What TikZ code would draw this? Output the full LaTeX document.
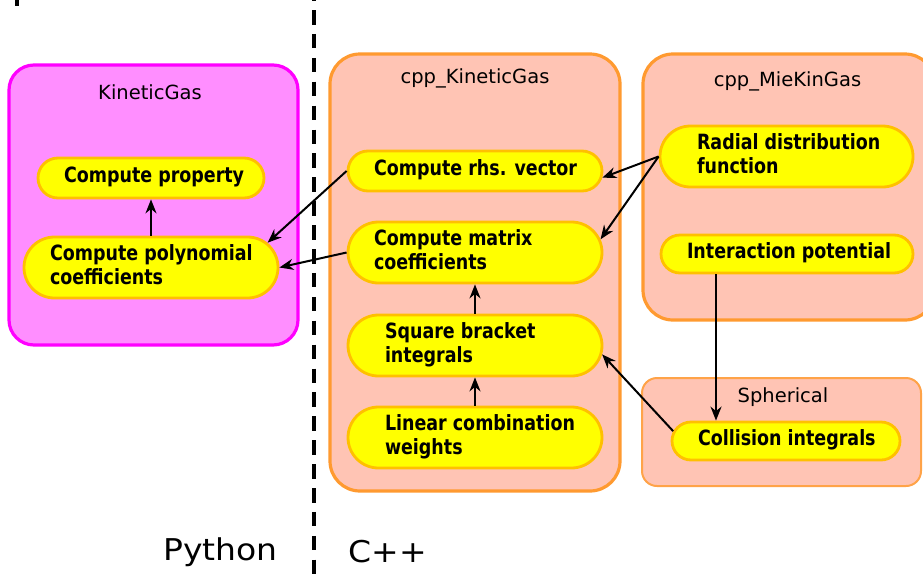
\documentclass[tikz,border=0pt]{standalone}
\usepackage{fontspec}
\setmainfont{DejaVu Sans}
\newfontfamily\pillfont{DejaVu Sans Condensed}[BoldFont={DejaVu Sans Condensed Bold},
  BoldFeatures={FakeStretch=0.925}]
\usetikzlibrary{arrows.meta,shapes.misc,calc}

\definecolor{pyfill}{HTML}{FF8EFF}
\definecolor{pyline}{HTML}{FF00FF}
\definecolor{cppfill}{HTML}{FFC4B4}
\definecolor{cppline}{HTML}{FF9A30}
\definecolor{sphline}{HTML}{FFA348}
\definecolor{pillfill}{HTML}{FFFF00}
\definecolor{pillline}{HTML}{FFC000}

% pill label: box of width #1 (pill width minus its height), text indented by #2
\newcommand\pilltext[3]{\makebox[#1pt][l]{\hspace*{#2pt}%
  \begin{tabular}{@{}l@{}}#3\end{tabular}}}

\tikzset{
  container/.style={draw=cppline, fill=cppfill, line width=3.2pt, rectangle,
    inner sep=0pt},
  boxtitle/.style={font=\fontsize{19.5}{23}\selectfont, inner sep=0pt},
  pill/.style n args={2}{rounded rectangle, draw=pillline, fill=pillfill,
    line width=2.8pt, inner xsep=0pt, inner ysep=0pt,
    minimum width=#1, minimum height=#2,
    font=\pillfont\bfseries\fontsize{21}{24.5}\selectfont},
  flow/.style={-{Stealth[length=14pt,width=11pt,inset=4.5pt]}, line width=2pt},
  lang/.style={font=\fontsize{30}{34}\selectfont, inner sep=0pt, xscale=1.1,
    transform shape},
}

\begin{document}
\begin{tikzpicture}[x=1pt,y=-1pt]
\useasboundingbox (0,0) rectangle (923,576);

% language divider
\draw[line width=4pt, dash pattern=on 14.5pt off 9.4pt, dash phase=13.9pt]
  (314,0) -- (314,576);
\draw[line width=4pt] (17,0) -- (17,6);

% module containers
\node[container, draw=pyline, fill=pyfill, rounded corners=25pt,
  minimum width=289, minimum height=280] (kg) at (153.5,205) {};
\node[container, rounded corners=30pt,
  minimum width=290, minimum height=437] (cppkg) at (475,272.5) {};
\node[container, rounded corners=30pt,
  minimum width=292, minimum height=266] (mie) at (789,187) {};
\node[container, draw=sphline, line width=2pt, rounded corners=15pt,
  minimum width=279, minimum height=108] (sph) at (781.5,432) {};

\node[boxtitle] (kgtitle) at (150,92) {KineticGas};
\node[boxtitle] (cpptitle) at (475,78) {cpp\_KineticGas};
\node[boxtitle] (mietitle) at (787.5,81) {cpp\_MieKinGas};
\node[boxtitle] (sphtitle) at (783,397) {Spherical};

% Python side
\node[pill={226}{40}] (prop) at (151,178) {\pilltext{186}{6}{Compute property}};
\node[pill={254}{61}] (poly) at (151,267.5) {\pilltext{193}{-4.5}{Compute polynomial\\coefficients}};

% cpp_KineticGas
\node[pill={254}{40}] (rhs) at (475,171) {\pilltext{214}{6}{Compute rhs. vector}};
\node[pill={254}{61}] (matrix) at (475,252.5) {\pilltext{193}{-4.5}{Compute matrix\\coefficients}};
\node[pill={254}{61}] (square) at (475,345.5) {\pilltext{193}{6.5}{Square bracket\\integrals}};
\node[pill={254}{61}] (linear) at (475,437.5) {\pilltext{193}{6.5}{Linear combination\\weights}};

% cpp_MieKinGas
\node[pill={253}{61}] (rdf) at (786.5,156.5) {\pilltext{192}{6.5}{Radial distribution\\function}};
\node[pill={252}{38}] (inter) at (787,254) {\pilltext{214}{7}{Interaction potential}};

% Spherical
\node[pill={228}{38}] (coll) at (786,441) {\pilltext{190}{7}{Collision integrals}};

% data flow
\draw[flow] (poly.north -| prop.south) -- (prop.south);
\draw[flow] (linear.north) -- (square.south);
\draw[flow] (square.north) -- (matrix.south);
\draw[flow] (rhs.west) -- (poly.12);
\draw[flow] (matrix.west) -- (poly.east);
\draw[flow] (rdf.west) -- (rhs.-3);
\draw[flow] (rdf.west) -- (matrix.6);
\draw[flow] ([xshift=36pt]inter.south west) -- ([xshift=36pt]inter.south west |- coll.north);
\draw[flow] (coll.175) -- (square.-4);

% language labels
\node[lang] (python) at (220.5,552) {Python};
\node[lang] (cpp) at (388,552) {C++};
\end{tikzpicture}
\end{document}
